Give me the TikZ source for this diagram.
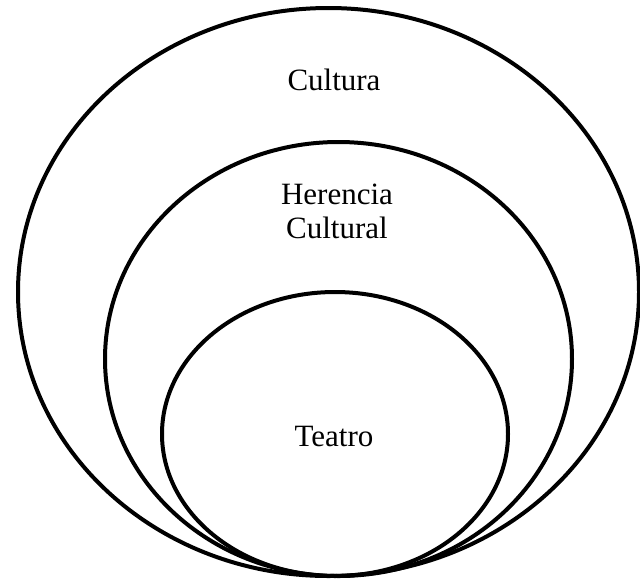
\documentclass[tikz,border=0pt]{standalone}
\usepackage{fontspec}
\setmainfont{Liberation Serif}
\usetikzlibrary{shapes.geometric}
\begin{document}
\begin{tikzpicture}[x=1pt,y=1pt,
  ring/.style={draw=black,line width=4pt,ellipse,inner sep=0pt},
  lbl/.style={font=\fontsize{31}{34}\selectfont,align=center,inner sep=0pt}]
\useasboundingbox (0,0) rectangle (640,-582);
\node[ring,minimum width=621pt,minimum height=568pt] (cultura) at (328.5,-292) {};
\node[ring,minimum width=467pt,minimum height=434pt] (herencia) at (338.5,-359) {};
\node[ring,minimum width=346pt,minimum height=284pt] (teatro) at (335,-434) {};
\node[lbl] (tc) at (334,-80) {Cultura};
\node[lbl] (th) at (337,-211) {Herencia\\Cultural};
\node[lbl] (tt) at (334,-436) {Teatro};
\end{tikzpicture}
\end{document}
